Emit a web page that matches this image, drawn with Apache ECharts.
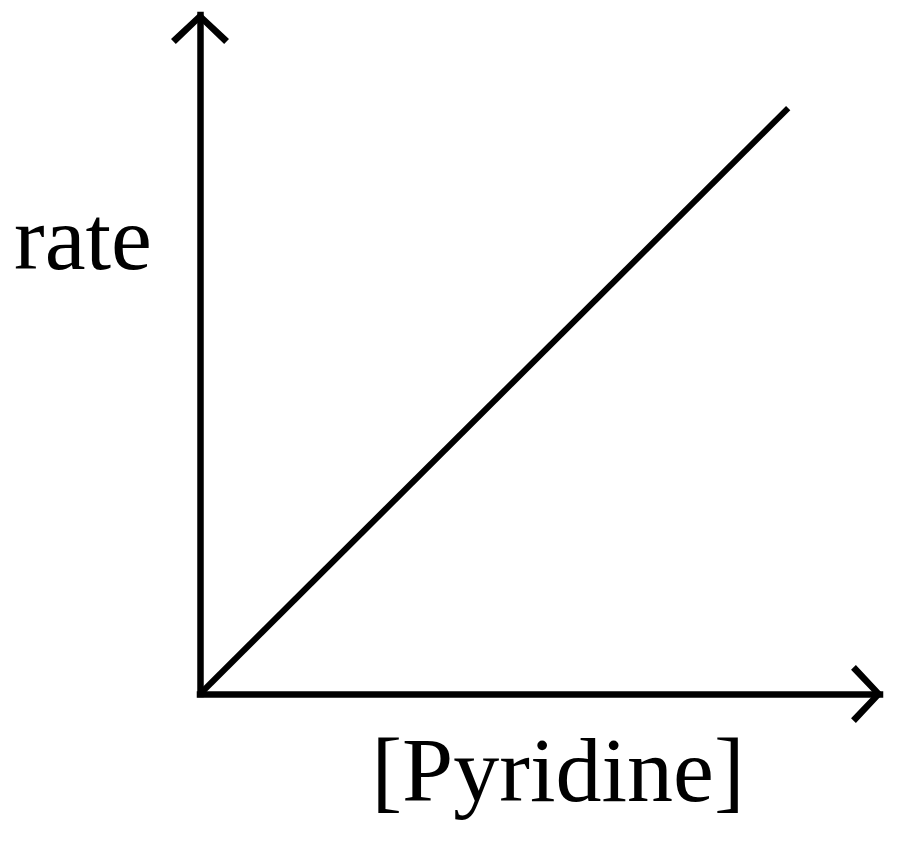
<!DOCTYPE html>
<html>
<head>
<meta charset="utf-8">
<script src="https://cdn.jsdelivr.net/npm/echarts@6/dist/echarts.min.js"></script>
<style>
  html, body { margin: 0; padding: 0; background: #fff; }
  #chart { width: 900px; height: 849px; }
</style>
</head>
<body>
<div id="chart"></div>
<script>
// schematic: rate rises linearly with [Pyridine]
const pyridine = [0, 86.5];
const rate = [0, 86.3];
const xName = '[Pyridine]';
const yName = 'rate';

// open chevron arrow head, pointing up (echarts turns it along the axis)
const arrowHead = 'path://M30,0 L60,28 L55,33 L30,9 L5,33 L0,28 Z';

const chart = echarts.init(document.getElementById('chart'));

const axisLine = {
    show: true,
    symbol: ['none', arrowHead],
    symbolSize: [58, 32],
    symbolOffset: [0, -13],
    lineStyle: {color: '#000', width: 6.5, cap: 'square'}
};

const nameFont = {
    fontFamily: '"Liberation Serif", "Times New Roman", serif',
    fontSize: 92,
    color: '#000'
};

chart.setOption({
    animation: false,
    backgroundColor: '#fff',
    grid: {left: 200, right: 20, top: 15, bottom: 155, outerBoundsMode: 'none'},
    xAxis: {
        type: 'value',
        min: 0,
        max: 100,
        name: xName,
        nameLocation: 'middle',
        nameGap: 37,
        nameTextStyle: Object.assign({padding: [0, 0, 0, 36]}, nameFont),
        axisLine: axisLine,
        axisTick: {show: false},
        axisLabel: {show: false},
        splitLine: {show: false}
    },
    yAxis: {
        type: 'value',
        min: 0,
        max: 100,
        axisLine: axisLine,
        axisTick: {show: false},
        axisLabel: {show: false},
        splitLine: {show: false}
    },
    // y axis title sits well above the axis middle in the original
    graphic: [{
        type: 'text',
        x: 14,
        y: 245,
        style: Object.assign({
            text: yName,
            align: 'left',
            verticalAlign: 'middle',
            fill: '#000',
            font: '92px "Liberation Serif", "Times New Roman", serif'
        })
    }],
    series: [{
        type: 'line',
        data: pyridine.map((x, i) => [x, rate[i]]),
        showSymbol: false,
        symbol: 'none',
        lineStyle: {color: '#000', width: 6},
        silent: true
    }]
});
</script>
</body>
</html>
